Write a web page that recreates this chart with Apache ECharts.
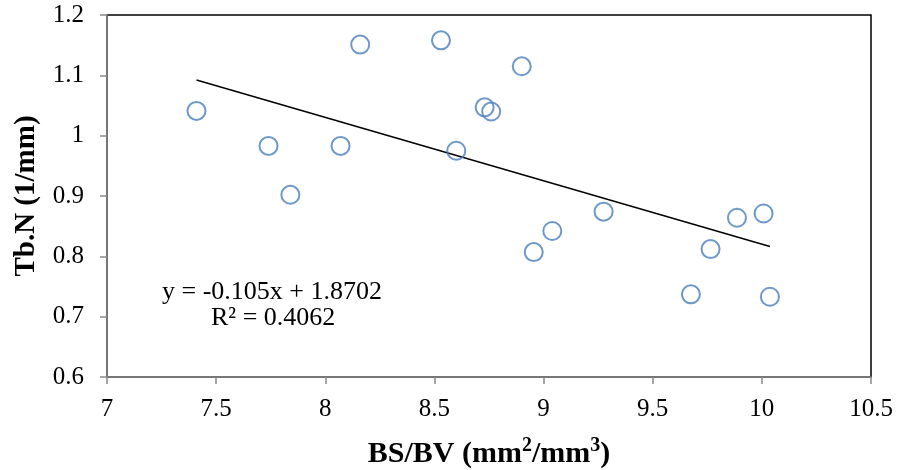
<!DOCTYPE html>
<html>
<head>
<meta charset="utf-8">
<script src="https://cdn.jsdelivr.net/npm/echarts@6/dist/echarts.min.js"></script>
<style>html,body{margin:0;padding:0;background:#fff;}#c{width:898px;height:470px;}</style>
</head>
<body>
<div id="c"></div>
<script>
const xValues = [7.41, 7.74, 7.84, 8.07, 8.16, 8.53, 8.60, 8.73, 8.76, 8.90, 8.955, 9.04, 9.275, 9.675, 9.765, 9.886, 10.008, 10.037];
const yValues = [1.041, 0.983, 0.902, 0.983, 1.151, 1.158, 0.975, 1.047, 1.040, 1.115, 0.807, 0.842, 0.874, 0.737, 0.812, 0.864, 0.871, 0.733];
const slope = -0.105;
const intercept = 1.8702;
const equationText = 'y = -0.105x + 1.8702';
const r2Text = 'R² = 0.4062';
// x title: BS/BV (mm²/mm³), with rich-text superscripts
const xTitle = '{b|BS/BV (mm}{s|2}{b|/mm}{s|3}{b|)}';
const yTitle = 'Tb.N (1/mm)';

const points = xValues.map((x, i) => [x, yValues[i]]);
const xmin = Math.min(...xValues), xmax = Math.max(...xValues);
const trend = [[xmin, slope * xmin + intercept], [xmax, slope * xmax + intercept]];

const font = 'Liberation Serif, Times New Roman, serif';
const chart = echarts.init(document.getElementById('c'), null, {renderer: 'canvas'});
chart.setOption({
  animation: false,
  grid: {left: 107, right: 27, top: 15, bottom: 93, show: true, borderColor: '#000', borderWidth: 1.5,
    backgroundColor: 'transparent', containLabel: false, outerBoundsMode: 'none'},
  xAxis: {
    type: 'value', min: 7, max: 10.5, interval: 0.5,
    name: xTitle, nameLocation: 'middle', nameGap: 59,
    nameTextStyle: {
      fontFamily: font, fontWeight: 'bold', fontSize: 30, color: '#000',
      rich: {
        b: {fontFamily: font, fontWeight: 'bold', fontSize: 30, color: '#000', lineHeight: 33, verticalAlign: 'bottom'},
        s: {fontFamily: font, fontWeight: 'bold', fontSize: 20, color: '#000', lineHeight: 33, verticalAlign: 'top'}
      }
    },
    axisLine: {show: true, lineStyle: {color: '#898989', width: 1.5}},
    axisTick: {show: true, length: 7, lineStyle: {color: '#898989', width: 1.5}},
    axisLabel: {fontFamily: font, fontSize: 25, color: '#000', margin: 20},
    splitLine: {show: false}
  },
  yAxis: {
    type: 'value', min: 0.6, max: 1.2, interval: 0.1,
    name: yTitle, nameLocation: 'middle', nameGap: 66, nameRotate: 90,
    nameTextStyle: {fontFamily: font, fontWeight: 'bold', fontSize: 29, color: '#000'},
    axisLine: {show: true, lineStyle: {color: '#898989', width: 1.5}},
    axisTick: {show: true, length: 7, lineStyle: {color: '#898989', width: 1.5}},
    axisLabel: {fontFamily: font, fontSize: 25, color: '#000', margin: 23,
      formatter: v => (Math.round(v * 10) / 10).toString()},
    splitLine: {show: false}
  },
  series: [
    {
      type: 'line', data: trend, symbol: 'none', silent: true,
      lineStyle: {color: '#000', width: 1.5}, z: 1
    },
    {
      type: 'scatter', data: points, symbol: 'circle', symbolSize: 18,
      itemStyle: {color: 'rgba(255,255,255,0)', borderColor: '#4a7ebb', borderWidth: 2}, z: 2
    }
  ],
  graphic: [
    {type: 'text', x: 162, y: 292, style: {text: equationText, fontFamily: font, fontSize: 26, fill: '#000', verticalAlign: 'middle'}},
    {type: 'text', x: 211, y: 318, style: {text: r2Text, fontFamily: font, fontSize: 26, fill: '#000', verticalAlign: 'middle'}}
  ]
});
</script>
</body>
</html>
